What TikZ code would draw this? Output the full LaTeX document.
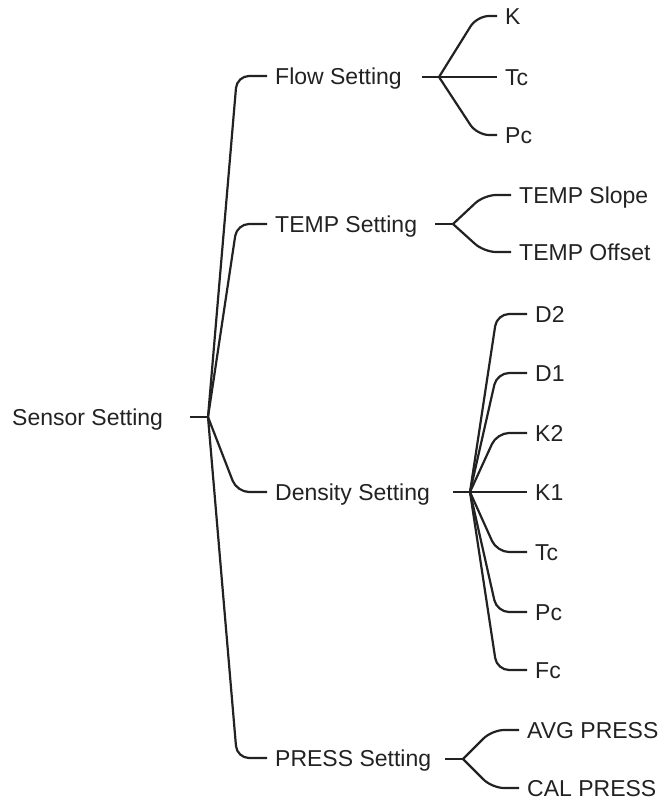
\documentclass[tikz,border=0pt]{standalone}
\usepackage{fontspec}
\setmainfont{Liberation Sans}
\definecolor{ink}{HTML}{222222}
\begin{document}
\begin{tikzpicture}[x=1pt,y=-1pt,
  lbl/.style={anchor=west,inner xsep=8pt,inner ysep=0pt,text height=16.5pt,text depth=0pt,
    font=\fontsize{23pt}{27pt}\selectfont,text=ink},
  edge/.style={draw=ink,line width=2.2pt,rounded corners=12pt},
  stub/.style={draw=ink,line width=2.2pt}]
\useasboundingbox (0,0) rectangle (665,800);
% nodes
\node[lbl] (root) at (4,417) {Sensor Setting};
\node[lbl] (flow) at (267,76) {Flow Setting};
\node[lbl] (temp) at (267,224) {TEMP Setting};
\node[lbl] (dens) at (267,492) {Density Setting};
\node[lbl] (press) at (267,758) {PRESS Setting};
\node[lbl] (fk) at (497,16) {K};
\node[lbl] (ftc) at (497,77) {Tc};
\node[lbl] (fpc) at (497,135) {Pc};
\node[lbl] (tslope) at (511,195) {TEMP Slope};
\node[lbl] (toff) at (511,252) {TEMP Offset};
\node[lbl] (d2) at (527,314) {D2};
\node[lbl] (d1) at (527,373) {D1};
\node[lbl] (k2) at (527,433) {K2};
\node[lbl] (k1) at (527,492) {K1};
\node[lbl] (dtc) at (527,552) {Tc};
\node[lbl] (dpc) at (527,612) {Pc};
\node[lbl] (dfc) at (527,670) {Fc};
\node[lbl] (avg) at (519,730) {AVG PRESS};
\node[lbl] (cal) at (519,788) {CAL PRESS};
% junctions
\coordinate (jroot) at (208,417);
\coordinate (jflow) at (439,77);
\coordinate (jtemp) at (453,224);
\coordinate (jdens) at (470,492);
\coordinate (jpress) at (463,759);
% stubs
\draw[stub] ([xshift=-18pt]jroot) -- (jroot);
\draw[stub] ([xshift=-17pt]jflow) -- (jflow);
\draw[stub] ([xshift=-18pt]jtemp) -- (jtemp);
\draw[stub] ([xshift=-17pt]jdens) -- (jdens);
\draw[stub] ([xshift=-18pt]jpress) -- (jpress);
% edges
\foreach \c in {flow,temp,dens,press}
  \draw[edge] (jroot) -- ([xshift=-30pt]\c.west) -- (\c.west);
\foreach \c in {fk,ftc,fpc}
  \draw[edge] (jflow) -- ([xshift=-20pt]\c.west) -- (\c.west);
\foreach \c in {tslope,toff}
  \draw[edge] (jtemp) -- ([xshift=-27pt]\c.west) -- (\c.west);
\foreach \c in {d2,d1,k2,k1,dtc,dpc,dfc}
  \draw[edge] (jdens) -- ([xshift=-30pt]\c.west) -- (\c.west);
\foreach \c in {avg,cal}
  \draw[edge] (jpress) -- ([xshift=-27pt]\c.west) -- (\c.west);
\end{tikzpicture}
\end{document}
